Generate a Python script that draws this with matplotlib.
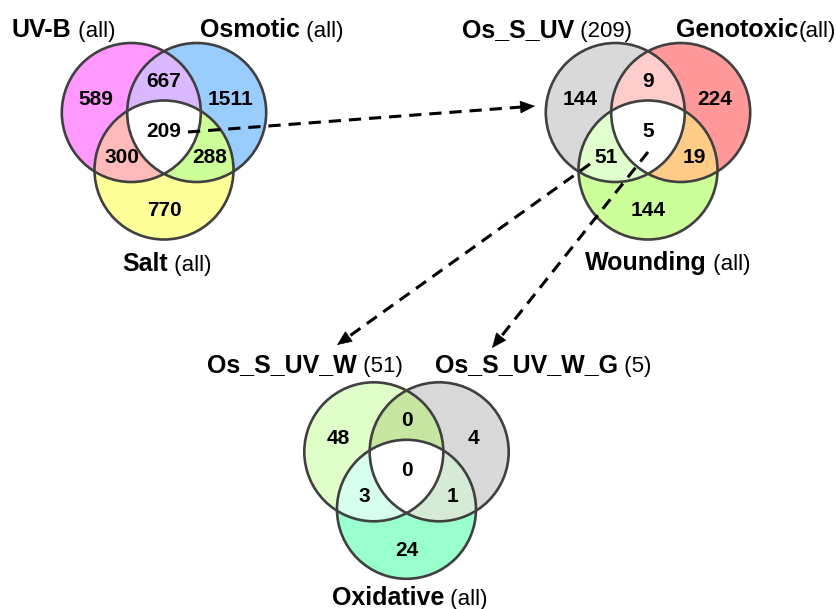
import numpy as np
import matplotlib
matplotlib.use("Agg")
import matplotlib.pyplot as plt
from matplotlib.patches import Circle, Polygon

plt.rcParams['font.family'] = ['Liberation Sans', 'DejaVu Sans']

# region order: A only, A&B, B only, A&B&C, A&C, B&C, C only
counts_1 = [589, 667, 1511, 209, 300, 288, 770]
counts_2 = [144, 9, 224, 5, 51, 19, 144]
counts_3 = [48, 0, 4, 0, 3, 1, 24]

colors_1 = ['#ff99ff', '#dab8ff', '#99ccff', '#ffffff', '#ffbaba', '#ccff99', '#ffff99']
colors_2 = ['#d9d9d9', '#ffcccc', '#ff9999', '#ffffff', '#e0ffcc', '#ffcc88', '#ccff99']
colors_3 = ['#e0ffc8', '#c6e6a2', '#d9d9d9', '#ffffff', '#d6ffee', '#d6ebd6', '#99ffcc']

# set names: (bold part, normal part)
names_1 = [('UV-B', ' (all)'), ('Osmotic', ' (all)'), ('Salt', ' (all)')]
names_2 = [('Os_S_UV', ' (209)'), ('Genotoxic', '(all)'), ('Wounding', ' (all)')]
names_3 = [('Os_S_UV_W', ' (51)'), ('Os_S_UV_W_G', ' (5)'), ('Oxidative', ' (all)')]

R = 69.5
circ_off = [(-32.7, -19.2), (32.7, -19.2), (0.0, 38.3)]
lab_off = [(-68, -32), (0, -50), (67, -32), (0, 0), (-42, 26), (46, 26), (0, 79)]

fig = plt.figure(figsize=(8.37, 6.09), dpi=100)
ax = fig.add_axes([0, 0, 1, 1])
ax.set_xlim(0, 837)
ax.set_ylim(609, 0)
ax.axis('off')


def triple(cs):
    pts = []
    t = np.linspace(0, 2 * np.pi, 1440, endpoint=False)
    for i, (x, y) in enumerate(cs):
        px, py = x + R * np.cos(t), y + R * np.sin(t)
        ok = np.ones_like(t, dtype=bool)
        for j, (u, v) in enumerate(cs):
            if j != i:
                ok &= (px - u) ** 2 + (py - v) ** 2 <= R ** 2 + 1e-6
        pts += list(zip(px[ok], py[ok]))
    pts = np.array(pts)
    m = pts.mean(axis=0)
    ang = np.arctan2(pts[:, 1] - m[1], pts[:, 0] - m[0])
    return pts[np.argsort(ang)]


def venn(cx, cy, counts, cols, names, name_pos):
    cs = [(cx + dx, cy + dy) for dx, dy in circ_off]
    # single sets
    for (x, y), c in zip(cs, [cols[0], cols[2], cols[6]]):
        ax.add_patch(Circle((x, y), R, facecolor=c, edgecolor='none'))
    # pairs
    for (i, j), c in zip([(0, 1), (0, 2), (1, 2)], [cols[1], cols[4], cols[5]]):
        p = Circle(cs[i], R, facecolor=c, edgecolor='none')
        ax.add_patch(p)
        clip = Circle(cs[j], R, transform=ax.transData)
        p.set_clip_path(clip)
    ax.add_patch(Polygon(triple(cs), closed=True, facecolor=cols[3], edgecolor='none'))
    for x, y in cs:
        ax.add_patch(Circle((x, y), R, fill=False, edgecolor='#404040', lw=1.9))
    for (dx, dy), n in zip(lab_off, counts):
        ax.text(cx + dx, cy + dy, str(n), ha='center', va='center',
                fontsize=15, fontweight='bold')
    for (b, n), (x, y) in zip(names, name_pos):
        t = ax.text(x, y, b, ha='left', va='baseline', fontsize=18, fontweight='bold')
        ax.annotate(n, xy=(1, 0), xycoords=t, ha='left', va='bottom', fontsize=16)


venn(164, 131.7, counts_1, colors_1, names_1, [(12, 37), (200, 37), (122, 271)])
venn(648, 131.7, counts_2, colors_2, names_2, [(462, 37), (676, 37), (585, 270)])
venn(406.5, 471, counts_3, colors_3, names_3, [(207, 372), (435, 372), (332, 605)])


def arrow(x0, y0, x1, y1):
    d = np.array([x1 - x0, y1 - y0])
    d = d / np.hypot(*d)
    hx, hy = x1 - 9 * d[0], y1 - 9 * d[1]
    ax.plot([x0, hx], [y0, hy], color='k', lw=2.2, ls=(0, (4, 2.6)),
            solid_capstyle='butt', dash_capstyle='butt')
    ax.annotate('', xy=(x1, y1), xytext=(hx, hy),
                arrowprops=dict(arrowstyle='-|>,head_length=0.7,head_width=0.3',
                                color='k', lw=0.5, shrinkA=0, shrinkB=0,
                                mutation_scale=14))


arrow(188, 132, 535, 106)
arrow(590, 164, 337, 345)
arrow(648, 152, 492, 348)

fig.savefig('out.png', dpi=100)
